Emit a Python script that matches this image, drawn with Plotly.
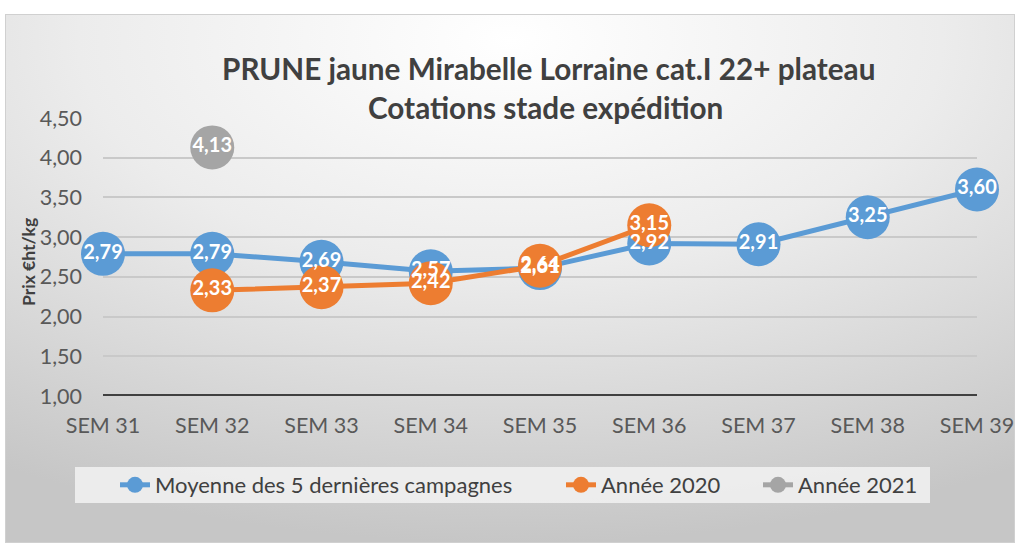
import plotly.graph_objects as go
import urllib.parse

categories = ["SEM 31", "SEM 32", "SEM 33", "SEM 34", "SEM 35", "SEM 36", "SEM 37", "SEM 38", "SEM 39"]
moyenne = [2.79, 2.79, 2.69, 2.57, 2.61, 2.92, 2.91, 3.25, 3.60]
annee_2020 = [None, 2.33, 2.37, 2.42, 2.64, 3.15, None, None, None]
annee_2021 = [None, 4.13, None, None, None, None, None, None, None]
y_ticks = [1.0, 1.5, 2.0, 2.5, 3.0, 3.5, 4.0, 4.5]

series = [
    ("Moyenne des 5 dernières campagnes", moyenne, "#5B9BD5"),
    ("Année 2020", annee_2020, "#ED7D31"),
    ("Année 2021", annee_2021, "#A5A5A5"),
]

FONT = "Lato"
W, H = 1015, 543
L = 103
T = 118
R = W - 977
B = H - 396

pw = W - L - R
ph = H - T - B
def px(x):
    return (x - L) / pw
def py(y):
    return (H - B - y) / ph

def fmt(v):
    return f"{v:.2f}".replace(".", ",")

legend_names = ["legend", "legend2", "legend3"]
legend_text_x = [157, 603, 800]

fig = go.Figure()
for (name, vals, col), lg in zip(series, legend_names):
    fig.add_trace(go.Scatter(
        x=categories, y=vals, name=name, mode="lines+markers",
        line=dict(color=col, width=5), connectgaps=False,
        marker=dict(size=44, color=col, line=dict(width=0)),
        cliponaxis=False, legend=lg,
    ))
for name, vals, col in series:
    fig.add_trace(go.Scatter(
        x=categories, y=vals, mode="text", showlegend=False,
        text=[fmt(v) if v is not None else "" for v in vals],
        textposition="middle center",
        textfont=dict(family=FONT, size=20, color="white", weight="bold"),
        cliponaxis=False, hoverinfo="skip",
    ))

svg = ("<svg xmlns='http://www.w3.org/2000/svg' width='1010' height='529' preserveAspectRatio='none'>"
       "<defs><radialGradient id='g' cx='50%' cy='5%' r='95%' fx='50%' fy='5%'>"
       "<stop offset='0%' stop-color='#ffffff'/><stop offset='45%' stop-color='#ececec'/>"
       "<stop offset='100%' stop-color='#c6c6c6'/></radialGradient></defs>"
       "<rect width='1010' height='529' fill='url(#g)' stroke='#d0d0d0' stroke-width='2'/></svg>")
src = "data:image/svg+xml;charset=utf-8," + urllib.parse.quote(svg)

fig.add_layout_image(dict(
    source=src, xref="paper", yref="paper",
    x=px(5), y=py(14), sizex=px(1015) - px(5), sizey=py(14) - py(543),
    xanchor="left", yanchor="top", sizing="stretch", layer="below",
))

# legend box
fig.add_shape(type="rect", xref="paper", yref="paper",
              x0=px(75), x1=px(930), y0=py(503), y1=py(467),
              fillcolor="rgba(242,242,242,0.85)", line=dict(width=0), layer="below")

fig.add_annotation(text="<b>PRUNE jaune Mirabelle Lorraine cat.I 22+ plateau</b>",
                   xref="paper", yref="paper", x=px(548), y=py(68), showarrow=False,
                   xanchor="center", yanchor="middle",
                   font=dict(family=FONT, size=29.7, color="#404040"))
fig.add_annotation(text="<b>Cotations stade expédition</b>",
                   xref="paper", yref="paper", x=px(545), y=py(107), showarrow=False,
                   xanchor="center", yanchor="middle",
                   font=dict(family=FONT, size=29.7, color="#404040"))
fig.add_annotation(text="<b>Prix €ht/kg</b>", textangle=-90,
                   xref="paper", yref="paper", x=px(28), y=py(262), showarrow=False,
                   xanchor="center", yanchor="middle",
                   font=dict(family=FONT, size=17.5, color="#404040"))

legend_font = dict(family=FONT, size=22, color="#404040")
legend_cfg = {}
for lg, tx in zip(legend_names, legend_text_x):
    legend_cfg[lg] = dict(orientation="h", x=px(tx - 42), y=py(485),
                          xanchor="left", yanchor="middle",
                          bgcolor="rgba(0,0,0,0)", font=legend_font, borderwidth=0)

fig.update_layout(
    width=W, height=H,
    margin=dict(l=L, r=R, t=T, b=B, autoexpand=False),
    paper_bgcolor="white", plot_bgcolor="rgba(0,0,0,0)",
    font=dict(family=FONT, color="#595959", size=21),
    showlegend=True,
    xaxis=dict(type="category", range=[0, 8], showgrid=False, zeroline=False,
               showline=False, ticks="", tickfont=dict(size=21.5, color="#595959"),
               ticklabelstandoff=14, automargin=False),
    yaxis=dict(range=[1, 4.5], tickvals=y_ticks,
               ticktext=[fmt(v) for v in y_ticks],
               showgrid=True, gridcolor="#c9c9c9", gridwidth=2,
               zeroline=False, showline=False, ticks="",
               tickfont=dict(size=21.5, color="#595959"), ticklabelstandoff=20,
               automargin=False),
    **legend_cfg,
)
fig.add_shape(type="line", xref="paper", yref="y", x0=0, x1=1, y0=1, y1=1,
              line=dict(color="#404040", width=4), layer="above")

fig.write_html("out.html", config={"displayModeBar": False},
               post_script="document.body.style.margin='0';document.body.style.overflow='hidden';")
